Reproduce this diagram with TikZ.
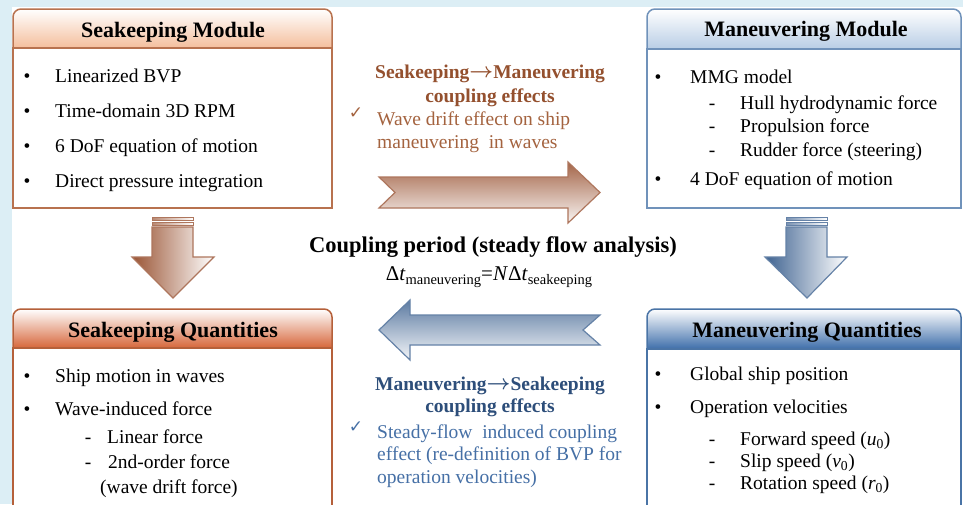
\documentclass[tikz,border=0pt]{standalone}
\usepackage{fontspec}
\setmainfont{Liberation Serif}
\newfontfamily\symfont{DejaVu Sans}
\definecolor{bgblue}{HTML}{DCEEF5}
\definecolor{skline}{HTML}{B8724F}
\definecolor{skqline}{HTML}{B5603A}
\definecolor{skhA}{HTML}{F4BE9C}
\definecolor{skhB}{HTML}{D6663A}
\definecolor{mnline}{HTML}{7092BA}
\definecolor{mnqline}{HTML}{4A74A6}
\definecolor{mnhA}{HTML}{B8CDE5}
\definecolor{mnhB}{HTML}{3E6EAA}
\definecolor{brhead}{HTML}{94502E}
\definecolor{brtext}{HTML}{A4633F}
\definecolor{buhead}{HTML}{2D4E7A}
\definecolor{butext}{HTML}{4670A6}
\definecolor{brarrow}{HTML}{9A5434}
\definecolor{buarrow}{HTML}{3F6391}
\newcommand{\rarr}{\raisebox{0.5pt}{$\boldsymbol{\rightarrow}$}}
\usepackage{amsmath}
\begin{document}
\begin{tikzpicture}[x=1pt,y=-1pt,
  bodytxt/.style={font=\fontsize{19.5}{23}\selectfont, anchor=base west, inner sep=0pt},
  bul/.style={font=\fontsize{19.5}{23}\selectfont, anchor=base, inner sep=0pt},
  ttl/.style={font=\fontsize{22}{26}\selectfont\bfseries, anchor=base, inner sep=0pt},
  hd/.style={font=\fontsize{19.5}{23}\selectfont\bfseries, anchor=base, inner sep=0pt},
  ck/.style={font=\fontsize{17}{19}\selectfont\symfont, anchor=center, inner sep=0pt},
  boxline/.style={line width=1.5pt},
  arrline/.style={line width=1.2pt},
]
\useasboundingbox (0,0) rectangle (963,504);
\clip (0,0) rectangle (963,504);
\fill[bgblue] (0,0) rectangle (963,504);
\fill[white] (12,7) rectangle (963,504);

% ---- Seakeeping Module
\shade[top color=white, bottom color=skhA] (13,48) -- (13,17) arc[start angle=180, end angle=270, radius=8] -- (324,9) arc[start angle=270, end angle=360, radius=8] -- (332,48) -- cycle;
\draw[boxline, draw=skline, rounded corners=8pt] (13,48) -- (13,9) -- (332,9) -- (332,48);
\draw[boxline, draw=skline, fill=white] (13,48) rectangle (332,208);
% ---- Maneuvering Module
\shade[top color=white, bottom color=mnhA] (647,49) -- (647,17) arc[start angle=180, end angle=270, radius=8] -- (953,9) arc[start angle=270, end angle=360, radius=8] -- (961,49) -- cycle;
\draw[boxline, draw=mnline, rounded corners=8pt] (647,49) -- (647,9) -- (961,9) -- (961,49);
\draw[boxline, draw=mnline, fill=white] (647,49) rectangle (961,208);
% ---- Seakeeping Quantities
\shade[top color=white, bottom color=skhB] (13,348) -- (13,317) arc[start angle=180, end angle=270, radius=8] -- (324,309) arc[start angle=270, end angle=360, radius=8] -- (332,348) -- cycle;
\draw[boxline, draw=skqline, rounded corners=8pt] (13,348) -- (13,309) -- (332,309) -- (332,348);
\draw[boxline, draw=skqline, fill=white] (13,348) rectangle (332,520);
% ---- Maneuvering Quantities
\shade[top color=white, bottom color=mnhB] (647,349) -- (647,317) arc[start angle=180, end angle=270, radius=8] -- (953,309) arc[start angle=270, end angle=360, radius=8] -- (961,349) -- cycle;
\draw[boxline, draw=mnqline, rounded corners=8pt] (647,349) -- (647,309) -- (961,309) -- (961,349);
\draw[boxline, draw=mnqline, fill=white] (647,349) rectangle (961,520);

% ---- block arrows
\draw[arrline, draw=brarrow!80, top color=brarrow!90, bottom color=brarrow!6]
  (379,177) -- (568,177) -- (568,162) -- (600,192.5) -- (568,223) -- (568,208) -- (379,208) -- (395,192.5) -- cycle;
\draw[arrline, draw=buarrow!80, top color=buarrow!85, bottom color=buarrow!6]
  (600,315) -- (410,315) -- (410,300) -- (379,330) -- (410,360) -- (410,345) -- (600,345) -- (583,330) -- cycle;
% down arrows
\draw[arrline, draw=brarrow!80, left color=brarrow, right color=white]
  (152,227) -- (193,227) -- (193,257) -- (214,257) -- (173,298) -- (132,257) -- (152,257) -- cycle;
\draw[line width=0.8pt, draw=brarrow!80, left color=brarrow!70, right color=white] (152,217) rectangle (193,220.5);
\draw[line width=0.8pt, draw=brarrow!80, left color=brarrow!70, right color=white] (152,222.5) rectangle (193,225);
\draw[arrline, draw=buarrow!80, left color=buarrow, right color=white]
  (786,227) -- (827,227) -- (827,257) -- (847,257) -- (807,298) -- (765,257) -- (786,257) -- cycle;
\draw[line width=0.8pt, draw=buarrow!80, left color=buarrow!70, right color=white] (786,217) rectangle (827,220.5);
\draw[line width=0.8pt, draw=buarrow!80, left color=buarrow!70, right color=white] (786,222.5) rectangle (827,225);

% ---- titles
\node[ttl] (t1) at (173,37) {Seakeeping Module};
\node[ttl] (t2) at (806,36) {Maneuvering Module};
\node[ttl] (t3) at (173,337) {Seakeeping Quantities};
\node[ttl] (t4) at (807,337) {Maneuvering Quantities};

% ---- Seakeeping Module body
\node[bul] (b1) at (27,82) {•};
\node[bodytxt] (s1) at (55,82) {Linearized BVP};
\node[bul] (b2) at (27,117) {•};
\node[bodytxt] (s2) at (55,117) {Time-domain 3D RPM};
\node[bul] (b3) at (27,152) {•};
\node[bodytxt] (s3) at (55,152) {6 DoF equation of motion};
\node[bul] (b4) at (27,187) {•};
\node[bodytxt] (s4) at (55,187) {Direct pressure integration};

% ---- Maneuvering Module body
\node[bul] (b5) at (658,83) {•};
\node[bodytxt] (m1) at (690,83) {MMG model};
\node[bul] (d1) at (712,109) {-};
\node[bodytxt] (m2) at (740,109) {Hull hydrodynamic force};
\node[bul] (d2) at (712,132) {-};
\node[bodytxt] (m3) at (740,132) {Propulsion force};
\node[bul] (d3) at (712,156) {-};
\node[bodytxt] (m4) at (740,156) {Rudder force (steering)};
\node[bul] (b6) at (658,185) {•};
\node[bodytxt] (m5) at (690,185) {4 DoF equation of motion};

% ---- Seakeeping Quantities body
\node[bul] (b7) at (27,382) {•};
\node[bodytxt] (q1) at (55,382) {Ship motion in waves};
\node[bul] (b8) at (27,415) {•};
\node[bodytxt] (q2) at (55,415) {Wave-induced force};
\node[bul] (d4) at (88,443) {-};
\node[bodytxt] (q3) at (107,443) {Linear force};
\node[bul] (d5) at (88,468) {-};
\node[bodytxt] (q4) at (108,468) {2nd-order force};
\node[bodytxt] (q5) at (100,493) {(wave drift force)};

% ---- Maneuvering Quantities body
\node[bul] (b9) at (658,380) {•};
\node[bodytxt] (r1) at (690,380) {Global ship position};
\node[bul] (b10) at (658,413) {•};
\node[bodytxt] (r2) at (690,413) {Operation velocities};
\node[bul] (d6) at (712,445) {-};
\node[bodytxt] (r3) at (740,445) {Forward speed (\textit{u}\textsubscript{0})};
\node[bul] (d7) at (712,467) {-};
\node[bodytxt] (r4) at (740,467) {Slip speed (\textit{v}\textsubscript{0})};
\node[bul] (d8) at (712,489) {-};
\node[bodytxt] (r5) at (740,489) {Rotation speed (\textit{r}\textsubscript{0})};

% ---- centre: seakeeping -> maneuvering
\node[hd, text=brhead] (c1) at (490,78) {Seakeeping\rarr Maneuvering};
\node[hd, text=brhead] (c2) at (490,102) {coupling effects};
\node[ck, text=brtext] (k1) at (356,113) {✓};
\node[bodytxt, text=brtext] (c3) at (377,125) {Wave drift effect on ship};
\node[bodytxt, text=brtext] (c4) at (377,148) {maneuvering\ \ in waves};

% ---- centre: coupling period
\node[font=\fontsize{22.5}{27}\selectfont\bfseries, anchor=base, inner sep=0pt] (cp) at (493,252) {Coupling period (steady flow analysis)};
\node[font=\fontsize{21}{24}\selectfont, anchor=base, inner sep=0pt] (eq) at (489,280)
  {Δ\textit{t}\raisebox{-4pt}{\fontsize{14.5}{15}\selectfont maneuvering}=\textit{N}Δ\textit{t}\raisebox{-4pt}{\fontsize{14.5}{15}\selectfont seakeeping}};

% ---- centre: maneuvering -> seakeeping
\node[hd, text=buhead] (e1) at (490,390) {Maneuvering\rarr Seakeeping};
\node[hd, text=buhead] (e2) at (490,412) {coupling effects};
\node[ck, text=butext] (k2) at (356,427) {✓};
\node[bodytxt, text=butext] (e3) at (377,438) {Steady-flow\ \ induced coupling};
\node[bodytxt, text=butext] (e4) at (377,460) {effect (re-definition of BVP for};
\node[bodytxt, text=butext] (e5) at (377,483) {operation velocities)};
\end{tikzpicture}
\end{document}
